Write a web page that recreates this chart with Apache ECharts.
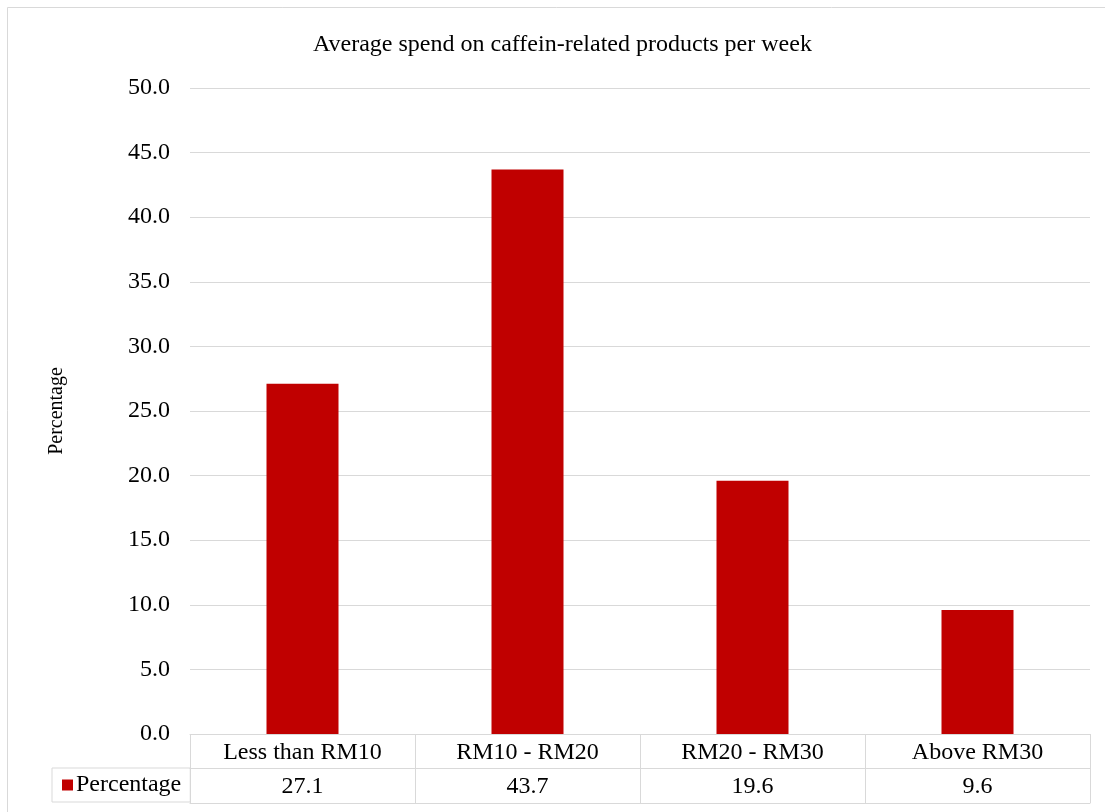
<!DOCTYPE html>
<html>
<head>
<meta charset="utf-8">
<script src="https://cdn.jsdelivr.net/npm/echarts@6/dist/echarts.min.js"></script>
<style>
  html, body { margin: 0; padding: 0; background: #fff; }
  #chart { width: 1105px; height: 812px; }
</style>
</head>
<body>
<div id="chart"></div>
<script>
// Weekly spend brackets and share of respondents (%)
const categories = ['Less than RM10', 'RM10 - RM20', 'RM20 - RM30', 'Above RM30'];
const percentage = [27.1, 43.7, 19.6, 9.6];
const seriesName = 'Percentage';
const titleText = 'Average spend on caffein-related products per week';

const FONT = "'Liberation Serif', 'Times New Roman', serif";
const GRID = '#d9d9d9';
const BAR = '#c00000';
const FS = 24;

const chart = echarts.init(document.getElementById('chart'));

// Row lines of the data table underneath the plot are drawn by stacked x axes.
const tableAxis = (offset, showLabels) => ({
  type: 'category',
  data: categories,
  position: 'bottom',
  offset: offset,
  axisLine: { show: true, lineStyle: { color: GRID, width: 1 } },
  axisTick: { show: false },
  splitLine: { show: false },
  axisLabel: {
    show: showLabels,
    margin: 7,
    fontFamily: FONT,
    fontSize: FS,
    color: '#000',
    formatter: (v, i) => percentage[i].toFixed(1)
  }
});

chart.setOption({
  animation: false,
  backgroundColor: '#fff',
  title: {
    text: titleText,
    left: 308,
    top: 28,
    textStyle: { fontFamily: FONT, fontSize: FS, fontWeight: 'normal', color: '#000' }
  },
  legend: {
    left: 52,
    top: 768,
    padding: [5, 9, 5, 10],
    itemWidth: 11,
    itemHeight: 11,
    itemGap: 0,
    borderColor: GRID,
    borderWidth: 1,
    data: [{ name: seriesName, icon: 'rect' }],
    textStyle: { fontFamily: FONT, fontSize: FS, color: '#000', padding: [0, 0, 0, -2] }
  },
  grid: { left: 190, right: 15, top: 88, bottom: 78, containLabel: false },
  xAxis: [
    {
      type: 'category',
      data: categories,
      position: 'bottom',
      axisLine: { show: true, lineStyle: { color: GRID, width: 1 } },
      axisTick: { show: true, length: 69, lineStyle: { color: GRID, width: 1 } },
      splitLine: { show: false },
      axisLabel: { margin: 7, fontFamily: FONT, fontSize: FS, color: '#000' }
    },
    tableAxis(34, true),
    tableAxis(69, false)
  ],
  yAxis: {
    type: 'value',
    min: 0,
    max: 50,
    interval: 5,
    name: seriesName,
    nameLocation: 'middle',
    nameRotate: 90,
    nameGap: 123,
    nameTextStyle: { fontFamily: FONT, fontSize: 20, color: '#000' },
    axisLine: { show: false },
    axisTick: { show: false },
    splitLine: { lineStyle: { color: GRID, width: 1 } },
    axisLabel: {
      margin: 20,
      fontFamily: FONT,
      fontSize: FS,
      color: '#000',
      formatter: v => v.toFixed(1)
    }
  },
  series: [{
    name: seriesName,
    type: 'bar',
    xAxisIndex: 0,
    data: percentage,
    barWidth: '32%',
    itemStyle: { color: BAR }
  }],
  graphic: [{
    type: 'rect',
    silent: true,
    shape: { x: 7.5, y: 7.5, width: 1120, height: 830 },
    style: { fill: 'none', stroke: GRID, lineWidth: 1 }
  }]
});
</script>
</body>
</html>
